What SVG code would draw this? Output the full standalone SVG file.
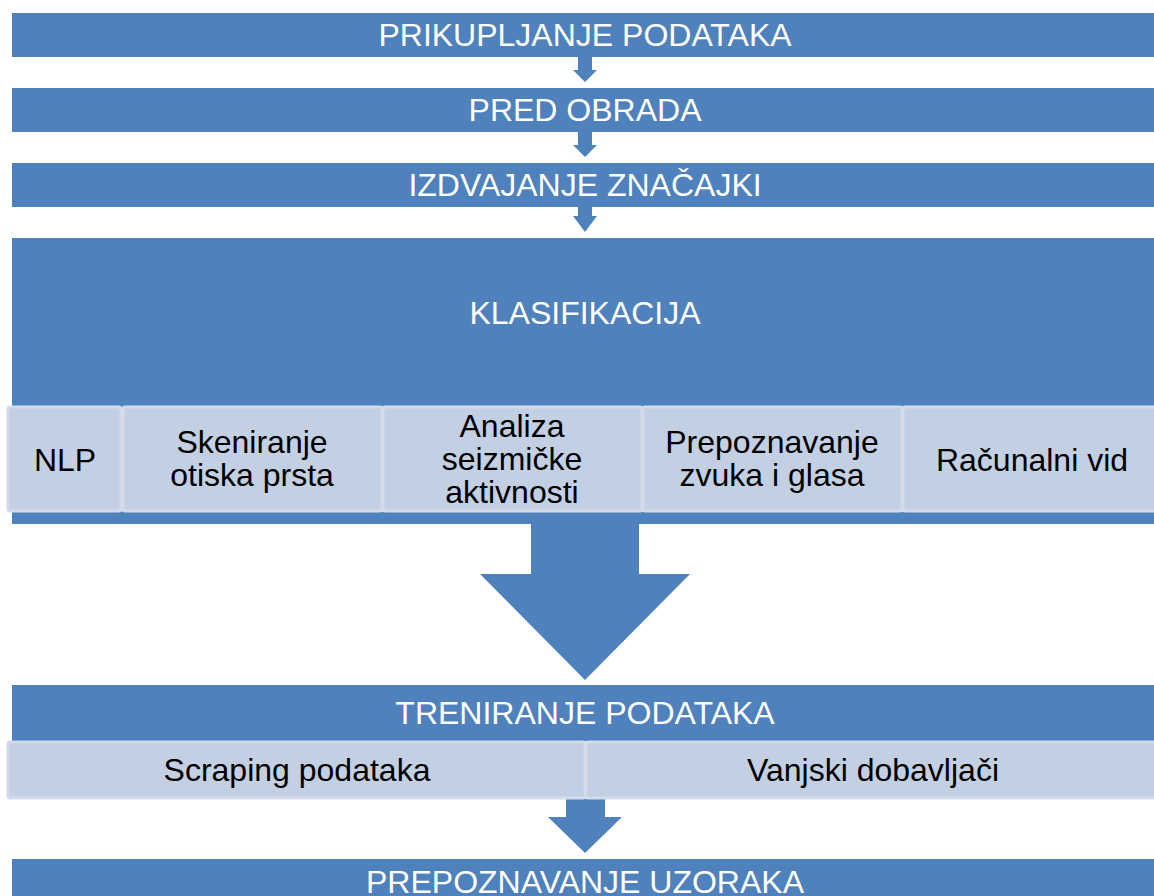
<svg xmlns="http://www.w3.org/2000/svg" width="1154" height="896" viewBox="0 0 1154 896">
<style>
.bar{fill:#4F81BD;}
.sub{fill:#C3CFE3;stroke:#D3DBEA;stroke-width:3;}
.arr{fill:#4F81BD;}
.tw{font-family:"Liberation Sans",Arial,sans-serif;font-size:32px;fill:#FFFFFF;text-anchor:middle;}
.tb{font-family:"Liberation Sans",Arial,sans-serif;font-size:32px;fill:#000000;text-anchor:middle;}
</style>
<rect width="1154" height="896" fill="#FFFFFF"/>
<g id="connectors">
<polygon class="arr" points="578,57 592,57 592,70 597,70 585,82 573,70 578,70"/>
<polygon class="arr" points="578,132 592,132 592,145 597,145 585,157 573,145 578,145"/>
<polygon class="arr" points="578,207 592,207 592,216 597,216 585,232 573,216 578,216"/>
<polygon class="arr" points="531,524 639,524 639,574 690,574 585,680 480,574 531,574"/>
<polygon class="arr" points="566,799 605,799 605,817 622,817 585,853 548,817 566,817"/>
</g>
<g id="n-prikupljanje">
<rect class="bar" x="12" y="13" width="1150" height="44"/>
<text class="tw" x="585" y="46">PRIKUPLJANJE PODATAKA</text>
</g>
<g id="n-predobrada">
<rect class="bar" x="12" y="88" width="1150" height="44"/>
<text class="tw" x="585" y="121">PRED OBRADA</text>
</g>
<g id="n-izdvajanje">
<rect class="bar" x="12" y="163" width="1150" height="44"/>
<text class="tw" x="585" y="196">IZDVAJANJE ZNAČAJKI</text>
</g>
<g id="n-klasifikacija">
<rect class="bar" x="12" y="238" width="1150" height="286"/>
<text class="tw" x="585" y="324">KLASIFIKACIJA</text>
</g>
<g id="n-nlp">
<rect class="sub" x="8" y="407" width="113" height="104" rx="2"/>
<text class="tb" x="65" y="471">NLP</text>
</g>
<g id="n-skeniranje">
<rect class="sub" x="123" y="407" width="259" height="104" rx="2"/>
<text class="tb" x="252" y="453">Skeniranje</text>
<text class="tb" x="252" y="486">otiska prsta</text>
</g>
<g id="n-analiza">
<rect class="sub" x="383" y="407" width="259" height="104" rx="2"/>
<text class="tb" x="512" y="437">Analiza</text>
<text class="tb" x="512" y="470">seizmičke</text>
<text class="tb" x="512" y="503">aktivnosti</text>
</g>
<g id="n-prepoznavanje-zvuka">
<rect class="sub" x="643" y="407" width="259" height="104" rx="2"/>
<text class="tb" x="772" y="453">Prepoznavanje</text>
<text class="tb" x="772" y="486">zvuka i glasa</text>
</g>
<g id="n-racunalni-vid">
<rect class="sub" x="903" y="407" width="260" height="104" rx="2"/>
<text class="tb" x="1032" y="471">Računalni vid</text>
</g>
<g id="n-treniranje">
<rect class="bar" x="12" y="685" width="1150" height="56"/>
<text class="tw" x="585" y="724">TRENIRANJE PODATAKA</text>
</g>
<g id="n-scraping">
<rect class="sub" x="8" y="742" width="577" height="56" rx="2"/>
<text class="tb" x="297" y="781">Scraping podataka</text>
</g>
<g id="n-vanjski">
<rect class="sub" x="586" y="742" width="577" height="56" rx="2"/>
<text class="tb" x="873" y="781">Vanjski dobavljači</text>
</g>
<g id="n-prepoznavanje-uzoraka">
<rect class="bar" x="12" y="859" width="1150" height="50"/>
<text class="tw" x="585" y="893">PREPOZNAVANJE UZORAKA</text>
</g>
</svg>
